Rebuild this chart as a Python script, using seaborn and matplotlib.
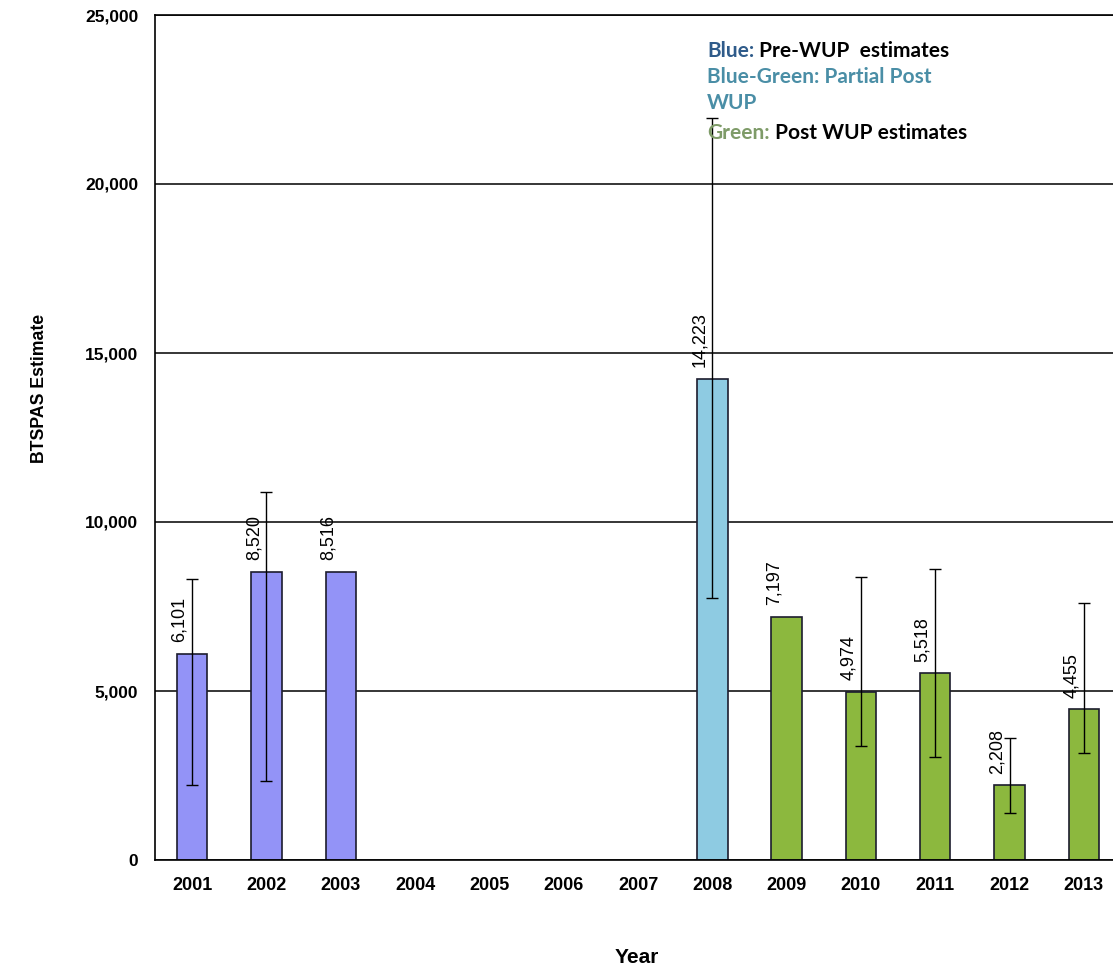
import numpy as np
import pandas as pd
import matplotlib
matplotlib.use("Agg")
import matplotlib.pyplot as plt
from matplotlib.ticker import FuncFormatter
import seaborn as sns

# Survey years on the axis (2004-2007 had no estimate)
years = [str(y) for y in range(2001, 2014)]

# BTSPAS abundance estimates with their interval bounds
est_years = ["2001", "2002", "2003", "2008", "2009", "2010", "2011", "2012", "2013"]
estimates = [6101, 8520, 8516, 14223, 7197, 4974, 5518, 2208, 4455]
periods = ["Pre-WUP", "Pre-WUP", "Pre-WUP", "Partial Post WUP",
           "Post WUP", "Post WUP", "Post WUP", "Post WUP", "Post WUP"]
ci_low = [2220, 2340, np.nan, 7750, np.nan, 3370, 3050, 1390, 3170]
ci_high = [8320, 10890, np.nan, 21950, np.nan, 8370, 8610, 3610, 7600]

palette = {"Pre-WUP": "#9393F7", "Partial Post WUP": "#8ECBE2", "Post WUP": "#8CB83E"}

df = pd.DataFrame({"year": est_years, "estimate": estimates, "period": periods,
                   "low": ci_low, "high": ci_high})

sns.set_style("white")
plt.rcParams["font.family"] = ["Liberation Sans", "DejaVu Sans"]
plt.rcParams["text.color"] = "black"
plt.rcParams["xtick.color"] = "black"
plt.rcParams["ytick.color"] = "black"
plt.rcParams["axes.labelcolor"] = "black"

fig = plt.figure(figsize=(11.13, 9.71), dpi=100)
ax = fig.add_axes([155 / 1113, 111 / 971, 966 / 1113, 845 / 971])

sns.barplot(data=df, x="year", y="estimate", hue="period", order=years,
            palette=palette, saturation=1, width=0.41, dodge=False,
            edgecolor="#1c1c2e", linewidth=1.2, legend=False, ax=ax, zorder=2)

# asymmetric interval bars
ci = df.dropna(subset=["low", "high"])
xpos = [years.index(y) for y in ci["year"]]
ax.errorbar(xpos, ci["estimate"],
            yerr=[ci["estimate"] - ci["low"], ci["high"] - ci["estimate"]],
            fmt="none", ecolor="black", elinewidth=1.0, capsize=4, capthick=1.0,
            zorder=3)

# rotated value labels above each bar
for y, v in zip(df["year"], df["estimate"]):
    ax.text(years.index(y) - 0.17, v + 350, f"{v:,}", rotation=90,
            ha="center", va="bottom", fontsize=13, color="black", zorder=4)

ax.set_xlim(-0.5, 12.5)
ax.set_ylim(0, 25000)
ax.set_yticks(np.arange(0, 25001, 5000))
ax.yaxis.set_major_formatter(FuncFormatter(lambda v, p: f"{int(v):,}"))
ax.set_xticks(range(len(years)))
ax.set_xticklabels(years, fontsize=13, fontweight="bold")
ax.set_xticks(np.arange(0.5, 12.6, 1), minor=True)
ax.tick_params(axis="x", which="major", length=0, pad=12)
ax.tick_params(axis="x", which="minor", length=6, width=1, direction="out", color="black")
ax.tick_params(axis="y", length=6, width=1, direction="out", color="black",
               labelsize=12.5, pad=6)
for lab in ax.get_yticklabels():
    lab.set_fontweight("bold")

ax.yaxis.grid(True, color="black", linewidth=1.1)
ax.xaxis.grid(False)
ax.set_axisbelow(True)
for side in ["left", "bottom", "top"]:
    ax.spines[side].set_visible(True)
    ax.spines[side].set_color("black")
    ax.spines[side].set_linewidth(1.2)
ax.spines["right"].set_visible(False)
ax.set_xlabel("")
ax.set_ylabel("")

fig.text(40 / 1113, 1 - 388 / 971, "BTSPAS Estimate", rotation=90, ha="center",
         va="center", fontsize=12.7, fontweight="bold")
fig.text(637 / 1113, 1 - 957 / 971, "Year", ha="center", va="center",
         fontsize=15, fontweight="bold")

# colour key written as text
kfont = dict(family=["Lato", "DejaVu Sans"], fontsize=15, fontweight="bold")
x0 = 707 / 1113
t1 = fig.text(x0, 1 - 57 / 971, "Blue:", color="#2F5B8A", va="baseline", **kfont)
ax.annotate(" Pre-WUP  estimates", xy=(1, 0), xycoords=t1, va="bottom",
            color="black", annotation_clip=False, **kfont)
fig.text(x0, 1 - 83 / 971, "Blue-Green: Partial Post", color="#4A8EA6",
         va="baseline", **kfont)
fig.text(x0, 1 - 109 / 971, "WUP", color="#4A8EA6", va="baseline", **kfont)
t4 = fig.text(x0, 1 - 139 / 971, "Green:", color="#7E9B68", va="baseline", **kfont)
ax.annotate(" Post WUP estimates", xy=(1, 0), xycoords=t4, va="bottom",
            color="black", annotation_clip=False, **kfont)

fig.savefig("out.png", dpi=100)
